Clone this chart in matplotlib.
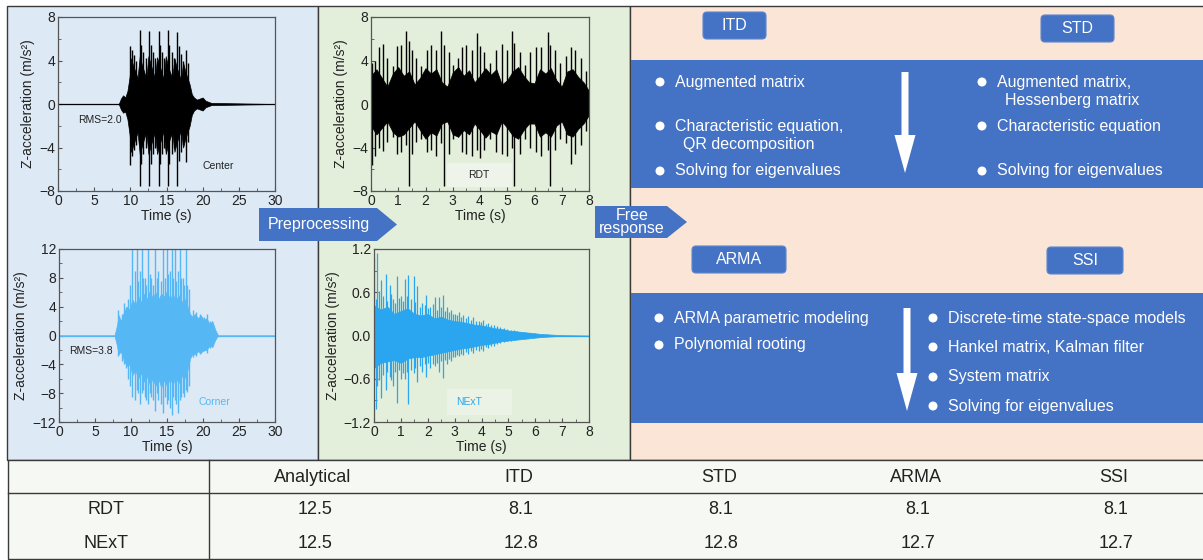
import matplotlib
matplotlib.use("Agg")
import matplotlib.pyplot as plt
from matplotlib.patches import Rectangle, FancyBboxPatch, Polygon, Circle, FancyArrow
from matplotlib.ticker import AutoMinorLocator

plt.rcParams["font.family"] = ["Liberation Sans", "DejaVu Sans"]

W, H = 1203, 560

# ---- signals: dense core envelope + individual spikes ----
center_env_t = [0, 8.4, 8.7, 9.0, 9.3, 9.6, 9.9, 10.1, 10.4, 10.7, 11.0, 11.3, 11.6, 11.9, 12.2,
                12.5, 12.8, 13.1, 13.4, 13.7, 14.0, 14.3, 14.6, 14.9, 15.2, 15.5, 15.8, 16.1,
                16.4, 16.7, 17.0, 17.3, 17.6, 17.9, 18.2, 18.5, 18.8, 19.2, 19.6, 20.0, 20.4,
                20.8, 21.2, 30]
center_env_hi = [0, 0, 0.5, 0.8, 0.6, 1.2, 2.5, 4.2, 3.5, 3.0, 2.4, 4.4, 3.6, 3.0, 2.3,
                 4.4, 3.7, 3.0, 2.4, 4.3, 3.6, 3.0, 2.3, 4.4, 3.5, 2.9, 2.4, 4.2,
                 3.4, 2.8, 2.2, 3.8, 3.0, 2.4, 1.8, 0.9, 0.6, 0.4, 0.5, 0.6, 0.3,
                 0.2, 0.1, 0]
center_env_lo = [0, 0, -0.5, -0.8, -0.7, -1.4, -2.8, -4.4, -3.8, -3.2, -2.6, -4.6, -3.9, -3.2, -2.5,
                 -4.6, -3.9, -3.2, -2.6, -4.6, -3.8, -3.2, -2.5, -4.6, -3.8, -3.1, -2.6, -4.4,
                 -3.6, -3.0, -2.4, -4.0, -3.2, -2.6, -2.0, -1.0, -0.6, -0.4, -0.5, -0.6, -0.3,
                 -0.2, -0.1, 0]
center_sp_t = [10.0, 10.2, 10.5, 10.8, 11.3, 11.5, 11.8, 12.1, 12.6, 12.8, 13.1, 13.4, 13.9, 14.1,
               14.4, 14.7, 15.2, 15.4, 15.7, 16.0, 16.5, 16.7, 17.0, 17.3, 17.7, 18.0]
center_sp_hi = [5.3, 5.0, 4.5, 4.0, 6.8, 5.4, 4.8, 4.2, 6.7, 5.4, 4.8, 4.2, 6.7, 5.4,
                4.8, 4.2, 6.8, 5.4, 4.8, 4.2, 6.6, 5.3, 4.6, 4.0, 5.0, 3.8]
center_sp_lo = [-5.6, -4.8, -4.2, -3.8, -7.5, -5.5, -4.6, -4.0, -7.5, -5.5, -4.6, -4.0, -7.5, -5.5,
                -4.6, -4.0, -7.5, -5.5, -4.6, -4.0, -7.5, -5.2, -4.4, -3.8, -5.3, -3.5]

corner_env_t = [0, 7.7, 8.0, 8.3, 8.6, 9.0, 9.4, 9.8, 10.2, 10.6, 11.0, 11.4, 11.8, 12.2, 12.6,
                13.0, 13.4, 13.8, 14.2, 14.6, 15.0, 15.4, 15.8, 16.2, 16.6, 17.0, 17.4, 17.8,
                18.2, 18.5, 18.9, 19.3, 19.7, 20.1, 20.5, 20.9, 21.3, 21.7, 22.1, 30]
corner_env_hi = [0, 0, 1.2, 2.8, 2.0, 3.2, 4.0, 3.6, 5.0, 4.2, 5.5, 4.6, 5.8, 5.0, 6.2,
                 5.2, 6.0, 5.0, 5.8, 5.4, 6.2, 5.0, 5.8, 4.8, 5.6, 4.6, 5.2, 4.2,
                 3.0, 2.6, 3.0, 2.4, 2.8, 2.2, 2.4, 1.6, 2.0, 0.8, 0, 0]
corner_env_lo = [0, 0, -1.2, -2.6, -2.2, -3.4, -4.2, -4.0, -5.5, -4.8, -6.0, -5.2, -6.4, -5.6, -6.8,
                 -6.0, -7.0, -6.0, -7.2, -6.2, -7.0, -6.0, -6.8, -5.8, -6.6, -5.6, -6.0, -5.0,
                 -3.2, -2.6, -2.6, -2.2, -2.4, -2.0, -2.0, -1.4, -1.6, -0.6, 0, 0]
corner_sp_t = [8.2, 8.8, 9.0, 9.3, 9.6, 9.9, 10.2, 10.5, 10.8, 11.0, 11.2, 11.5, 11.7, 11.9,
               12.1, 12.3, 12.6, 12.8, 13.0, 13.3, 13.6, 13.8, 14.1, 14.4, 14.7, 15.0, 15.2,
               15.4, 15.7, 15.9, 16.1, 16.3, 16.5, 16.8, 17.0, 17.2, 17.4, 17.6, 17.8, 18.0,
               18.6, 19.0, 19.6, 20.2, 20.6, 21.0]
corner_sp_hi = [3.5, 3.0, 4.5, 4.0, 5.0, 7.0, 13, 9.0, 13, 7.5, 9.0, 13, 8.0, 8.0,
                7.0, 13, 8.5, 8.0, 7.0, 13, 8.0, 9.0, 7.5, 13, 8.0, 13, 8.5,
                9.0, 13, 8.0, 13, 7.5, 9.0, 13, 8.0, 8.0, 7.0, 13, 7.0, 6.5,
                3.5, 3.2, 3.0, 2.6, 3.0, 2.0]
corner_sp_lo = [-2.8, -3.5, -4.0, -4.5, -6.0, -7.0, -8.5, -9.0, -7.5, -8.0, -9.5, -8.0, -7.5, -8.5,
                -9.0, -9.5, -8.0, -8.5, -9.0, -10.5, -8.0, -9.0, -9.5, -10.8, -8.5, -9.5, -9.0,
                -10.0, -11.0, -8.5, -9.0, -9.5, -10.8, -9.0, -8.5, -8.0, -8.5, -7.5, -7.8, -7.0,
                -3.0, -2.8, -2.6, -2.2, -2.4, -1.8]

rdt_env_t = [0, 0.2, 0.4, 0.6, 0.8, 1.0, 1.2, 1.4, 1.6, 1.8, 2.0, 2.2, 2.4, 2.6, 2.8, 3.0,
             3.2, 3.4, 3.6, 3.8, 4.0, 4.2, 4.4, 4.6, 4.8, 5.0, 5.2, 5.4, 5.6, 5.8, 6.0,
             6.2, 6.4, 6.6, 6.8, 7.0, 7.2, 7.4, 7.6, 7.8, 8.0]
rdt_env_hi = [2.6, 3.2, 2.4, 1.6, 2.8, 3.4, 2.6, 3.0, 1.8, 2.4, 3.3, 2.8, 3.2, 2.0, 1.6, 2.9,
              3.4, 2.6, 3.1, 2.0, 2.6, 3.3, 2.7, 3.2, 1.8, 2.2, 3.0, 3.4, 2.6, 2.0, 1.9,
              3.2, 2.8, 3.3, 2.2, 1.6, 3.0, 3.2, 2.5, 2.0, 1.2]
rdt_env_lo = [-2.0, -2.8, -2.2, -1.6, -2.6, -3.0, -2.8, -2.2, -1.6, -2.4, -3.2, -2.6, -2.9, -1.8, -1.6, -2.8,
              -3.0, -2.4, -2.8, -1.8, -2.4, -3.1, -2.5, -2.8, -1.6, -2.2, -2.9, -3.2, -2.4, -1.8, -1.8,
              -3.0, -2.6, -3.0, -2.0, -1.6, -2.8, -3.0, -2.3, -1.8, -1.0]
rdt_sp_t = [0.05, 0.15, 0.3, 0.45, 0.6, 0.8, 0.95, 1.1, 1.28, 1.39, 1.5, 1.65, 1.85, 2.05, 2.2,
            2.4, 2.56, 2.68, 2.85, 3.0, 3.2, 3.35, 3.5, 3.7, 3.88, 4.0, 4.15, 4.35, 4.6, 4.8,
            5.0, 5.16, 5.25, 5.45, 5.65, 5.85, 6.05, 6.25, 6.5, 6.57, 6.75, 6.95, 7.15, 7.35,
            7.5, 7.7, 7.9]
rdt_sp_hi = [3.8, 4.0, 5.2, 5.5, 4.2, 3.5, 5.3, 5.4, 6.7, 5.8, 5.0, 4.2, 3.5, 5.0, 5.4,
             5.0, 6.7, 5.4, 4.8, 3.6, 4.2, 5.2, 5.4, 5.0, 6.5, 5.3, 4.8, 3.8, 5.0, 5.5,
             5.0, 6.7, 5.6, 4.8, 3.6, 4.8, 5.2, 5.2, 6.6, 5.4, 5.0, 3.8, 4.4, 5.2,
             5.0, 4.2, 3.0]
rdt_sp_lo = [-5.6, -4.8, -4.0, -4.3, -3.5, -3.0, -4.6, -4.4, -3.8, -7.5, -4.6, -3.5, -3.2, -4.4, -4.2,
             -4.8, -3.6, -7.5, -4.6, -3.2, -3.0, -4.4, -4.6, -4.8, -4.2, -5.0, -4.2, -3.2, -4.4, -4.6,
             -4.8, -4.0, -7.5, -4.6, -3.2, -4.0, -4.4, -4.8, -4.2, -7.5, -4.2, -3.2, -3.6, -5.5,
             -4.6, -3.8, -2.5]

next_env_t = [0, 0.25, 0.5, 0.75, 1.0, 1.25, 1.5, 1.75, 2.0, 2.25, 2.5, 2.75, 3.0, 3.25, 3.5,
              3.75, 4.0, 4.25, 4.5, 4.75, 5.0, 5.25, 5.5, 5.75, 6.0, 6.25, 6.5, 6.75, 7.0, 8.0]
next_env_hi = [0.42, 0.36, 0.40, 0.30, 0.34, 0.38, 0.30, 0.28, 0.30, 0.24, 0.26, 0.22, 0.20, 0.19, 0.17,
               0.15, 0.14, 0.12, 0.10, 0.09, 0.07, 0.06, 0.05, 0.04, 0.03, 0.02, 0.015, 0.01, 0.005, 0]
next_env_lo = [-0.45, -0.38, -0.36, -0.34, -0.38, -0.32, -0.30, -0.30, -0.28, -0.26, -0.24, -0.22, -0.20, -0.18, -0.17,
               -0.15, -0.13, -0.12, -0.10, -0.08, -0.07, -0.06, -0.05, -0.04, -0.03, -0.02, -0.015, -0.01, -0.005, 0]
next_sp_t = [0.0, 0.06, 0.12, 0.2, 0.27, 0.35, 0.43, 0.5, 0.58, 0.65, 0.72, 0.79, 0.86, 0.93, 1.0,
             1.07, 1.15, 1.22, 1.28, 1.38, 1.48, 1.54, 1.6, 1.7, 1.8, 1.88, 1.95, 2.02, 2.1, 2.18,
             2.26, 2.33, 2.4, 2.48, 2.57, 2.63, 2.7, 2.78, 2.85, 2.93, 3.0, 3.08, 3.15, 3.24, 3.32,
             3.41, 3.5, 3.6, 3.7, 3.8, 3.9, 3.98, 4.06, 4.15, 4.25, 4.35, 4.45, 4.58, 4.7, 4.83,
             4.95, 5.08, 5.2, 5.33, 5.45, 5.58, 5.7, 5.85, 6.0, 6.15, 6.3, 6.45, 6.6]
next_sp_hi = [1.09, 0.5, 1.14, 0.62, 0.77, 0.55, 0.86, 0.48, 0.70, 0.58, 0.50, 0.45, 0.82, 0.52, 0.55,
              0.48, 0.79, 0.55, 0.84, 0.50, 0.82, 0.46, 0.68, 0.40, 0.45, 0.42, 0.56, 0.38, 0.40, 0.44,
              0.54, 0.36, 0.54, 0.40, 0.56, 0.34, 0.40, 0.33, 0.36, 0.30, 0.30, 0.28, 0.33, 0.26, 0.29,
              0.24, 0.27, 0.22, 0.26, 0.20, 0.20, 0.19, 0.22, 0.16, 0.18, 0.14, 0.15, 0.13, 0.12, 0.10,
              0.09, 0.08, 0.07, 0.06, 0.05, 0.045, 0.04, 0.035, 0.03, 0.025, 0.02, 0.015, 0.01]
next_sp_lo = [-0.6, -1.02, -0.7, -0.62, -0.87, -0.55, -0.75, -0.50, -0.57, -0.62, -0.70, -0.50, -0.94, -0.48, -0.61,
              -0.52, -0.60, -0.50, -0.95, -0.48, -0.52, -0.45, -0.64, -0.42, -0.50, -0.40, -0.57, -0.38, -0.45, -0.40,
              -0.43, -0.38, -0.50, -0.36, -0.59, -0.34, -0.40, -0.32, -0.36, -0.30, -0.30, -0.27, -0.28, -0.25, -0.27,
              -0.23, -0.25, -0.21, -0.24, -0.20, -0.22, -0.19, -0.22, -0.16, -0.18, -0.14, -0.15, -0.12, -0.11, -0.09,
              -0.08, -0.07, -0.06, -0.05, -0.04, -0.035, -0.03, -0.025, -0.02, -0.018, -0.015, -0.012, -0.01]

# ---- table ----
table_cols = ["Analytical", "ITD", "STD", "ARMA", "SSI"]
table_rows = ["RDT", "NExT"]
table_vals = [["12.5", "8.1", "8.1", "8.1", "8.1"],
              ["12.5", "12.8", "12.8", "12.7", "12.7"]]

BLUE = "#4472c4"
C_CORNER = "#55b8f5"
C_NEXT = "#2aa6f0"

fig = plt.figure(figsize=(W / 100, H / 100), dpi=100)
fig.patch.set_facecolor("white")

bg = fig.add_axes([0, 0, 1, 1], zorder=-1)
bg.set_xlim(0, W)
bg.set_ylim(H, 0)
bg.axis("off")

# panels
bg.add_patch(Rectangle((7, 6), 311, 454, fc="#dde9f5", ec="#3a3a3a", lw=1))
bg.add_patch(Rectangle((318, 6), 312, 454, fc="#e3efda", ec="#3a3a3a", lw=1))
bg.add_patch(Rectangle((630, 6), 574, 454, fc="#fbe5d6", ec="#3a3a3a", lw=1))
bg.add_patch(Rectangle((8, 460), 1196, 99, fc="#f6f8f3", ec="#3a3a3a", lw=1))

# blue bands
bg.add_patch(Rectangle((631, 60), 573, 128, fc=BLUE, ec="none"))
bg.add_patch(Rectangle((631, 293), 573, 130, fc=BLUE, ec="none"))


def tag(x0, y0, w, h, label):
    bg.add_patch(FancyBboxPatch((x0, y0), w, h, boxstyle="round,pad=0,rounding_size=4",
                                fc=BLUE, ec="#5d86cf", lw=0.8))
    bg.text(x0 + w / 2, y0 + h / 2, label, color="white", fontsize=11.5, ha="center", va="center")


tag(703, 12, 63, 27, "ITD")
tag(1041, 15, 73, 27, "STD")
tag(692, 246, 94, 27, "ARMA")
tag(1047, 247, 76, 27, "SSI")


def bullet(xd, y, text, second=None):
    bg.add_patch(Circle((xd, y), 4.5, fc="white", ec="none"))
    bg.text(xd + 15, y, text, color="white", fontsize=11.5, ha="left", va="center")
    if second:
        bg.text(xd + 23, y + 19, second, color="white", fontsize=11.5, ha="left", va="center")


bullet(660, 82, "Augmented matrix")
bullet(660, 126, "Characteristic equation,", "QR decomposition")
bullet(660, 171, "Solving for eigenvalues")
bullet(982, 82, "Augmented matrix,", "Hessenberg matrix")
bullet(982, 126, "Characteristic equation")
bullet(982, 171, "Solving for eigenvalues")
bullet(659, 318, "ARMA parametric modeling")
bullet(659, 345, "Polynomial rooting")
bullet(933, 318, "Discrete-time state-space models")
bullet(933, 347, "Hankel matrix, Kalman filter")
bullet(933, 377, "System matrix")
bullet(933, 406, "Solving for eigenvalues")

bg.add_patch(FancyArrow(905, 72, 0, 101, width=7, head_width=21, head_length=38,
                        length_includes_head=True, fc="white", ec="none"))
bg.add_patch(FancyArrow(907, 308, 0, 103, width=7, head_width=21, head_length=38,
                        length_includes_head=True, fc="white", ec="none"))

# process arrows
bg.add_patch(Polygon([(259, 208), (377, 208), (397, 224.5), (377, 241), (259, 241)],
                     closed=True, fc=BLUE, ec="none"))
bg.text(319, 224, "Preprocessing", color="white", fontsize=11.5, ha="center", va="center")
bg.add_patch(Polygon([(595, 206), (667, 206), (687, 222), (667, 238), (595, 238)],
                     closed=True, fc=BLUE, ec="none"))
bg.text(632, 222, "Free\nresponse", color="white", fontsize=11.5, ha="center", va="center",
        linespacing=0.9)

# in-plot labels
bg.text(100, 120, "RMS=2.0", fontsize=7.5, ha="center", va="center", color="#222")
bg.text(218, 166, "Center", fontsize=7.5, ha="center", va="center", color="#222")
bg.text(91, 351, "RMS=3.8", fontsize=7.5, ha="center", va="center", color="#222")
bg.text(214, 402, "Corner", fontsize=7.5, ha="center", va="center", color=C_CORNER)
bg.add_patch(Rectangle((447, 163), 65, 24, fc="#eef4ea", ec="none"))
bg.text(479, 175, "RDT", fontsize=7.5, ha="center", va="center", color="#222")
bg.add_patch(Rectangle((447, 389), 65, 26, fc="#eaf3e6", ec="none"))
bg.text(469, 402, "NExT", fontsize=7.5, ha="center", va="center", color=C_NEXT)

# table
bg.plot([209, 209], [460, 559], color="#3a3a3a", lw=1)
bg.plot([8, 1203], [493, 493], color="#3a3a3a", lw=1)
col_x = [313, 519, 719, 916, 1114]
for x, name in zip(col_x, table_cols):
    bg.text(x, 477, name, fontsize=13, ha="center", va="center", color="#222")
for r, (name, y) in enumerate(zip(table_rows, [510, 543])):
    bg.text(106, y, name, fontsize=13, ha="center", va="center", color="#222")
    for x, val in zip(col_x, table_vals[r]):
        bg.text(x + 2, y, val, fontsize=13, ha="center", va="center", color="#222")


def px_axes(l, t, r, b):
    return fig.add_axes([l / W, 1 - b / H, (r - l) / W, (b - t) / H])


def draw_signal(ax, env_t, env_hi, env_lo, sp_t, sp_hi, sp_lo, color, lw=1.0):
    ax.axhline(0, color=color, lw=0.9, zorder=2)
    ax.fill_between(env_t, env_lo, env_hi, color=color, lw=0.5, zorder=2)
    ax.vlines(sp_t, sp_lo, sp_hi, color=color, lw=lw, zorder=2)


def style(ax, xlim, xticks, ylim, yticks):
    ax.set_facecolor("none")
    ax.set_xlim(*xlim)
    ax.set_ylim(*ylim)
    ax.set_xticks(xticks)
    ax.set_yticks(yticks)
    ax.xaxis.set_minor_locator(AutoMinorLocator(2))
    ax.yaxis.set_minor_locator(AutoMinorLocator(2))
    ax.tick_params(which="both", direction="in", top=False, right=False, colors="#555",
                   labelcolor="#222", labelsize=10, pad=2)
    ax.tick_params(which="major", length=3)
    ax.tick_params(which="minor", length=2)
    for s in ax.spines.values():
        s.set_color("#555")
        s.set_linewidth(0.9)
    ax.set_xlabel("Time (s)", fontsize=10, labelpad=1, color="#222")
    ax.set_ylabel("Z-acceleration (m/s²)", fontsize=10, labelpad=3, color="#222")


ax1 = px_axes(58, 17, 275, 191)
draw_signal(ax1, center_env_t, center_env_hi, center_env_lo,
            center_sp_t, center_sp_hi, center_sp_lo, "black")
style(ax1, (0, 30), [0, 5, 10, 15, 20, 25, 30], (-8, 8), [-8, -4, 0, 4, 8])

ax2 = px_axes(59, 249, 275, 422)
draw_signal(ax2, corner_env_t, corner_env_hi, corner_env_lo,
            corner_sp_t, corner_sp_hi, corner_sp_lo, C_CORNER)
style(ax2, (0, 30), [0, 5, 10, 15, 20, 25, 30], (-12, 12), [-12, -8, -4, 0, 4, 8, 12])

ax3 = px_axes(371, 17, 589, 191)
draw_signal(ax3, rdt_env_t, rdt_env_hi, rdt_env_lo, rdt_sp_t, rdt_sp_hi, rdt_sp_lo, "black")
style(ax3, (0, 8), list(range(9)), (-8, 8), [-8, -4, 0, 4, 8])

ax4 = px_axes(374, 249, 589, 422)
draw_signal(ax4, next_env_t, next_env_hi, next_env_lo, next_sp_t, next_sp_hi, next_sp_lo,
            C_NEXT, lw=0.9)
style(ax4, (0, 8), list(range(9)), (-1.2, 1.2), [-1.2, -0.6, 0.0, 0.6, 1.2])

fig.savefig("out.png", dpi=100)
